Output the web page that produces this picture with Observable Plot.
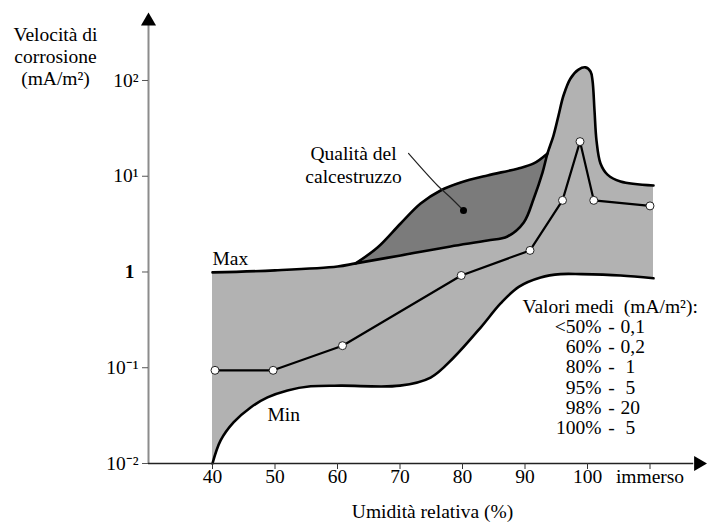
<!DOCTYPE html>
<html><head><meta charset="utf-8">
<script src="https://cdn.jsdelivr.net/npm/d3@7"></script>
<script src="https://cdn.jsdelivr.net/npm/@observablehq/plot@0.6"></script>
<style>
body{margin:0;background:#fff;}
</style></head><body><div id="chart"></div>
<script>
// Upper envelope ("Max") of the corrosion-rate band
const maxX = [40, 50, 60, 62.9, 70.1, 78.1, 84, 87.2, 89.8, 91.4, 92.8, 93.6, 94.56, 95.36, 96.16, 97.28, 98.56, 99.68, 100.48, 100.8, 101.12, 101.44, 102.08, 103.2, 105.28, 110.56];
const maxY = [0.99, 1.04, 1.14, 1.23, 1.49, 1.85, 2.13, 2.35, 3.29, 5.86, 10.9, 17.3, 26.6, 43, 69.7, 105, 130, 137, 124, 100, 48.6, 23.6, 13.6, 10.4, 8.8, 8.0];
// Lower envelope ("Min")
const minX = [40, 41.3, 43.4, 46.1, 48.8, 52, 55.7, 60.5, 70, 74.9, 78.6, 82.9, 86.1, 89, 92.5, 95.7, 99, 105.3, 110.56];
const minY = [0.01, 0.0174, 0.027, 0.0385, 0.049, 0.058, 0.064, 0.065, 0.065, 0.079, 0.128, 0.263, 0.47, 0.7, 0.877, 0.95, 0.95, 0.92, 0.86];
// Upper edge of the "Qualità del calcestruzzo" region
const qualX = [62.9, 66.4, 70.1, 73.3, 76.5, 79.7, 84, 88.8, 91.4, 93.6];
const qualY = [1.23, 1.80, 3.21, 5.19, 7.1, 8.6, 10.2, 12.0, 13.6, 17.3];
// Mean values (positions as drawn)
const meanX = [40.4, 49.7, 60.8, 79.8, 90.8, 96, 98.8, 101, 110];
const meanY = [0.094, 0.094, 0.17, 0.92, 1.68, 5.6, 23, 5.6, 4.9];
// Axis ticks
const xTicks = [40, 50, 60, 70, 80, 90, 100, 110];
const xTickLabels = ["40", "50", "60", "70", "80", "90", "100", "immerso"];
const yTicks = [0.01, 0.1, 10, 100];
const yTickLabels = ["10\u207B\u00B2", "10\u207B\u00B9", "10\u00B9", "10\u00B2"];
// Legend of mean values
const legendPct = ["<50%", "60%", "80%", "95%", "98%", "100%"];
const legendVal = ["0,1", "0,2", "\u00A01", "\u00A05", "20", "\u00A05"];
// Leader line for the quality annotation
const leadX = [71.36, 76, 78.08, 80.16];
const leadY = [17.3, 8.0, 6.0, 4.39];

const zip = (xs, ys) => xs.map((x, i) => ({x, y: ys[i]}));
const maxData = zip(maxX, maxY), minData = zip(minX, minY), qualData = zip(qualX, qualY);
const meanData = zip(meanX, meanY), leadData = zip(leadX, leadY);
const legendRows = legendPct.map((p, i) => ({p, v: legendVal[i], y: Math.pow(10, -0.642 - 0.209 * i)}));

const X0 = 29.76, YTOP = 512.9, YBOT = 0.01;
const font = "'Liberation Serif', 'Times New Roman', serif";
const curve = "catmull-rom";

const plot = Plot.plot({
  width: 707, height: 525,
  marginLeft: 148, marginRight: 1, marginTop: 12, marginBottom: 62,
  style: {fontFamily: font, fontSize: "19.5px", color: "#000", background: "#fff", overflow: "visible"},
  x: {domain: [X0, 119.04], axis: null},
  y: {type: "log", domain: [YBOT, YTOP], axis: null},
  marks: [
    Plot.areaY(qualData, {x: "x", y1: YBOT, y2: "y", fill: "#7b7b7b", curve}),
    Plot.areaY(maxData, {x: "x", y1: YBOT, y2: "y", fill: "#b2b2b2", curve}),
    Plot.areaY(minData, {x: "x", y1: YBOT, y2: "y", fill: "#ffffff", curve}),
    Plot.line(qualData, {x: "x", y: "y", stroke: "#000", strokeWidth: 2.6, curve}),
    Plot.line(maxData, {x: "x", y: "y", stroke: "#000", strokeWidth: 2.6, curve}),
    Plot.line(minData, {x: "x", y: "y", stroke: "#000", strokeWidth: 2.6, curve}),
    Plot.line(meanData, {x: "x", y: "y", stroke: "#000", strokeWidth: 2.2}),
    Plot.dot(meanData, {x: "x", y: "y", r: 4, fill: "#fff", stroke: "#222", strokeWidth: 1}),
    Plot.line(leadData, {x: "x", y: "y", stroke: "#222", strokeWidth: 1.2, curve}),
    Plot.dot([leadData[leadData.length - 1]], {x: "x", y: "y", r: 3.5, fill: "#000"}),
    // axes lines and arrows
    Plot.ruleX([X0], {y1: YBOT, y2: 375, stroke: "#8c8c8c", strokeWidth: 2}),
    Plot.ruleY([YBOT], {x1: X0, x2: 117, stroke: "#222", strokeWidth: 1.5}),
    Plot.dot([{x: X0, y: 416}], {x: "x", y: "y", symbol: "triangle", r: 5.6, fill: "#000", stroke: null}),
    Plot.dot([{x: 117.76, y: YBOT}], {x: "x", y: "y", symbol: "triangle", r: 5.6, fill: "#000", stroke: null, rotate: 90}),
    Plot.axisX({ticks: xTicks, tickFormat: d => xTickLabels[xTicks.indexOf(d)], tickSize: 6, tickPadding: 0, label: null, stroke: "#333"}),
    Plot.axisY({ticks: yTicks, tickFormat: d => yTickLabels[yTicks.indexOf(d)], tickSize: 6, tickPadding: 4, label: null, stroke: "#555"}),
    Plot.axisY({ticks: [1], tickFormat: () => "1", fontWeight: "bold", tickSize: 6, tickPadding: 8, label: null, stroke: "#555"}),
    // texts
    Plot.text(["Velocità di\ncorrosione\n(mA/m\u00B2)"], {frameAnchor: "top-left", dx: -93, dy: 13, lineAnchor: "top", textAnchor: "middle", lineHeight: 1.13}),
    Plot.text(["Umidità relativa (%)"], {frameAnchor: "bottom", dx: 5, dy: 54, lineAnchor: "bottom", textAnchor: "middle"}),
    Plot.text(["Max"], {x: 40, y: 1.17, lineAnchor: "bottom", textAnchor: "start"}),
    Plot.text(["Min"], {x: 48.8, y: 0.0275, lineAnchor: "bottom", textAnchor: "start"}),
    Plot.text(["Qualità del\ncalcestruzzo"], {x: 62.56, y: 8.6, lineAnchor: "bottom", textAnchor: "middle", lineHeight: 1.18}),
    Plot.text(["Valori medi\u00A0 (mA/m\u00B2):"], {x: 89.6, y: 0.369, lineAnchor: "bottom", textAnchor: "start"}),
    Plot.text(legendRows, {x: 102.24, y: "y", text: "p", lineAnchor: "bottom", textAnchor: "end"}),
    Plot.text(legendRows, {x: 103.84, y: "y", text: () => "-", lineAnchor: "bottom", textAnchor: "middle"}),
    Plot.text(legendRows, {x: 105.28, y: "y", text: "v", lineAnchor: "bottom", textAnchor: "start"})
  ]
});
document.getElementById("chart").append(plot);
</script></body></html>
